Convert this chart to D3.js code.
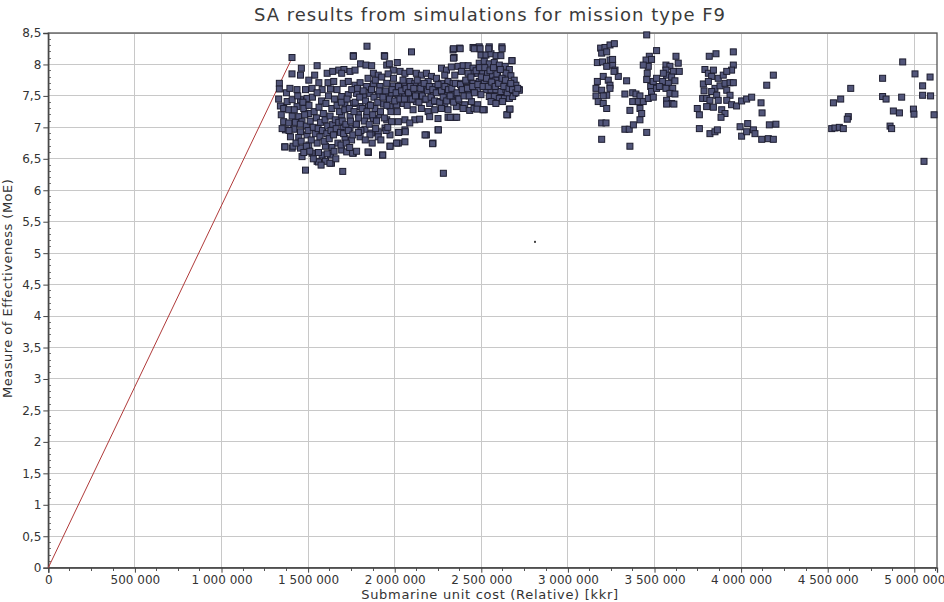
<!DOCTYPE html>
<html><head><meta charset="utf-8">
<script src="https://cdn.jsdelivr.net/npm/d3@7"></script>
<style>
html,body{margin:0;padding:0;background:#fff;}
svg text{font-family:"DejaVu Sans",Verdana,sans-serif;}
</style></head>
<body><svg id="c" width="944" height="602"></svg>
<script>
// Values: x = unit cost in thousands of kkr-units (x1000 for display), y = MoE
const title = "SA results from simulations for mission type F9";
const xLabel = "Submarine unit cost (Relative) [kkr]";
const yLabel = "Measure of Effectiveness (MoE)";
const xMax = 5131, yMax = 8.5;
const xTicks = [0,500,1000,1500,2000,2500,3000,3500,4000,4500,5000];
const yTicks = [0,0.5,1,1.5,2,2.5,3,3.5,4,4.5,5,5.5,6,6.5,7,7.5,8,8.5];

// reference line (origin to the highest-ratio design)
const refLine = [[0,0],[1398,8.05]];
// single tiny marker
const lonePoint = [[2810,5.18]];

// main cluster 1.3M - 2.7M
const clusterMain = [
[1407,8.11],[1461,7.94],[1552,7.98],[1407,7.85],[1334,7.70],[1334,7.61],[1456,7.83],[1538,7.83],[1610,7.86],[1642,7.89],
[1677,7.91],[1504,7.75],[1562,7.71],[1615,7.71],[1648,7.73],[1436,7.60],[1485,7.60],[1523,7.62],[1581,7.60],[1629,7.61],
[1667,7.60],[1379,7.41],[1408,7.44],[1456,7.44],[1494,7.46],[1340,7.34],[1359,7.30],[1388,7.28],[1436,7.33],[1475,7.30],
[1408,7.18],[1446,7.17],[1504,7.22],[1359,7.09],[1388,7.07],[1427,7.08],[1465,7.09],[1369,6.96],[1417,6.97],[1456,6.93],
[1398,6.85],[1446,6.84],[1494,6.88],[1365,6.69],[1408,6.67],[1456,6.67],[1504,6.72],[1552,6.75],[1600,6.70],[1638,6.68],
[1465,6.535],[1523,6.59],[1581,6.56],[1629,6.56],[1552,6.46],[1600,6.46],[1635,6.43],[1485,6.32],
[1840,8.29],[1761,8.14],[1940,8.14],[1803,8.01],[1834,7.99],[1867,7.98],[1954,7.99],[1969,8.01],[2015,8.03],[1707,7.92],
[1694,7.86],[1742,7.89],[1771,7.91],[1877,7.86],[1905,7.83],[1992,7.91],[2031,7.89],[2059,7.86],
[1703,7.70],[1732,7.73],[1771,7.67],[1800,7.71],[1838,7.65],[1877,7.69],[1915,7.65],[1954,7.70],[1992,7.66],[2031,7.67],[2059,7.70],
[1694,7.49],[1732,7.52],[1780,7.54],[1819,7.49],[1857,7.54],[1905,7.52],[1944,7.49],[1982,7.54],[2021,7.50],[2059,7.53],
[1713,7.36],[1761,7.38],[1800,7.33],[1848,7.36],[1886,7.30],[1934,7.37],[1973,7.33],[2011,7.36],[2050,7.38],
[1694,7.20],[1742,7.17],[1790,7.21],[1838,7.18],[1877,7.14],[1915,7.20],[1954,7.12],[1982,7.09],[2021,7.09],[2059,7.12],
[1703,7.01],[1742,6.99],[1780,7.04],[1828,6.97],[1867,6.91],[1905,6.93],[1944,6.99],[1973,6.88],[2021,6.92],[2059,6.96],
[1713,6.83],[1751,6.80],[1800,6.85],[1857,6.88],[1905,6.85],[1973,6.70],[2021,6.75],[2059,6.77],
[1694,6.64],[1723,6.61],[1761,6.59],[1848,6.60],[1930,6.56],[1700,6.30],
[2097,8.20],[2337,8.23],[2375,8.26],[2343,8.11],[2452,8.27],
[2270,7.94],[2299,7.91],[2327,7.96],[2366,7.97],[2395,7.98],[2424,7.98],[2452,7.94],[2452,7.86],
[2087,7.89],[2125,7.86],[2154,7.83],[2183,7.86],[2212,7.81],[2241,7.78],[2289,7.83],[2347,7.83],[2385,7.89],[2424,7.86],
[2087,7.73],[2116,7.70],[2154,7.70],[2193,7.73],[2231,7.65],[2270,7.70],[2308,7.73],[2337,7.70],[2375,7.70],[2414,7.73],[2452,7.70],
[2096,7.57],[2135,7.54],[2173,7.60],[2212,7.52],[2260,7.57],[2299,7.54],[2347,7.52],[2385,7.60],[2424,7.54],[2458,7.57],
[2087,7.44],[2125,7.41],[2164,7.44],[2202,7.38],[2241,7.41],[2289,7.38],[2327,7.44],[2366,7.41],[2404,7.36],[2443,7.41],
[2106,7.28],[2154,7.30],[2193,7.25],[2231,7.28],[2270,7.30],[2308,7.28],[2356,7.33],[2395,7.30],[2433,7.27],[2458,7.30],
[2116,7.12],[2144,7.13],[2202,7.17],[2250,7.14],[2308,7.16],[2347,7.16],
[2087,7.07],[2250,6.96],[2183,6.88],[2221,6.75],[2281,6.27],
[2488,8.28],[2546,8.28],[2619,8.28],[2677,8.06],[2498,8.15],[2527,8.15],[2556,8.17],[2585,8.14],[2613,8.14],
[2488,8.02],[2517,8.05],[2546,8.01],[2575,8.03],[2604,7.99],[2638,7.97],[2662,7.92],
[2479,7.86],[2508,7.89],[2536,7.86],[2565,7.83],[2594,7.81],[2642,7.86],[2671,7.82],[2690,7.75],
[2488,7.73],[2517,7.70],[2556,7.73],[2584,7.75],[2662,7.70],[2700,7.67],[2719,7.60],
[2479,7.60],[2527,7.60],[2556,7.60],[2584,7.60],[2613,7.57],[2642,7.60],[2671,7.57],[2690,7.54],
[2498,7.52],[2546,7.49],[2575,7.49],[2604,7.46],[2633,7.46],[2662,7.46],[2681,7.49],
[2479,7.36],[2517,7.28],[2556,7.41],[2584,7.38],[2623,7.41],[2662,7.29],[2652,7.20],
[1366,6.69],[1413,6.70],[1560,6.45],[1626,6.43],[1757,6.59],[1846,6.61],[1931,6.56],[1973,6.70],[2011,6.75],[2175,6.88],
[2219,6.74],[2252,6.96],[2061,6.93],[2023,6.92],[2647,7.20],[2666,7.29],[2719,7.59],[1942,8.13],[1761,8.13],
[2339,8.25],[2378,8.25],[2459,8.25],[2493,8.25],[2543,8.25],[2620,8.25],[2339,8.10],[2677,8.06],[2320,7.16],[2358,7.16],[2475,7.29],[2510,7.28],
[1470,7.40],[1480,7.20],[1490,7.02],[1500,6.95],[1505,7.35],[1512,7.10],[1518,6.80],[1525,7.48],[1530,7.00],[1535,7.25],
[1542,6.90],[1548,7.15],[1552,7.55],[1558,6.98],[1563,7.32],[1568,6.85],[1572,7.08],[1578,7.42],[1583,6.95],[1588,7.22],
[1593,6.78],[1598,7.12],[1603,7.38],[1608,6.90],[1613,7.02],[1618,7.50],[1622,6.82],[1627,7.18],[1632,6.95],[1637,7.30],
[1642,7.05],[1647,6.88],[1652,7.45],[1657,7.12],[1662,6.98],[1667,7.35],[1672,6.75],[1677,7.08],[1682,7.25],[1687,6.92],
[1692,7.40],[1697,7.10],[1705,6.90],[1712,7.28],[1718,7.05],[1725,7.45],[1732,6.95],[1738,7.30],[1745,7.10],[1752,7.60],
[1758,6.88],[1765,7.25],[1772,7.40],[1778,7.05],[1785,7.62],[1792,7.15],[1798,7.48],[1805,6.95],[1812,7.30],[1818,7.58],
[1825,7.10],[1832,7.42],[1840,7.25],[1846,7.78],[1853,7.05],[1860,7.35],[1866,7.60],[1873,7.20],[1880,7.48],[1888,7.75],
[1895,7.10],[1902,7.40],[1910,7.58],[1918,7.25],[1925,7.80],[1932,7.48],[1940,7.15],[1948,7.58],[1955,7.35],[1962,7.85],
[1970,7.45],[1978,7.25],[1985,7.60],[1993,7.78],[2000,7.42],[2008,7.55],[2015,7.25],[2022,7.65],[2030,7.45],[2040,7.58],
[2048,7.75],[2056,7.45],[2065,7.62],[2072,7.35],[2080,7.55],[2090,7.65],[2100,7.45],[2110,7.62],[2120,7.50],[2130,7.75],
[2140,7.40],[2150,7.62],[2160,7.50],[2170,7.70],[2180,7.45],[2190,7.58],[2200,7.65],[2210,7.48],[2220,7.60],[2230,7.42],
[2240,7.55],[2250,7.68],[2260,7.40],[2270,7.58],[2280,7.48],[2290,7.65],[2300,7.42],[2310,7.60],[2320,7.50],[2330,7.62],
[2340,7.40],[2350,7.70],[2360,7.55],[2370,7.45],[2380,7.68],[2390,7.60],[2400,7.50],[2410,7.75],[2420,7.62],[2430,7.50],
[2440,7.80],[2450,7.65],[2460,7.55],[2470,7.90],[2480,7.68],[2490,7.95],[2500,7.80],[2510,7.65],[2520,7.95],[2530,7.78],
[2540,7.65],[2550,7.90],[2560,7.72],[2570,7.95],[2580,7.65],[2590,7.85],[2600,7.70],[2610,7.92],[2620,7.78],[2630,7.65],
[2640,7.75],[2650,7.55],[2660,7.62],[2670,7.70],[2680,7.60],[2700,7.55],[2710,7.62],
[1330,7.45],[1345,7.20],[1350,6.98],[1375,7.55],[1390,6.95],[1395,7.62],[1420,7.28],[1430,6.75],[1440,7.50],[1455,7.05],
[1460,6.78],[1475,6.60],[1490,6.70],[1510,6.62],[1530,6.50],[1560,6.60],[1575,6.40],[1610,6.58],[1650,6.62],[1660,6.50],
[1690,6.72],[1720,6.75],[1740,6.68],[1780,6.62],[1790,6.92],[1830,6.80],[1870,6.75],[1890,6.98],[1920,6.80],[1950,6.95],[1960,7.00]
];

// right-hand groups 3.1M - 5.1M
const clusterRight = [
[3189,8.26],[3214,8.27],[3243,8.31],[3268,8.33],[3195,8.18],[3224,8.20],[3170,8.03],[3200,8.04],[3243,8.07],[3258,7.99],
[3224,7.97],[3272,7.91],[3291,7.81],[3204,7.81],[3233,7.75],[3170,7.73],[3243,7.67],[3162,7.62],[3195,7.59],[3243,7.62],
[3224,7.51],[3162,7.50],[3204,7.50],[3175,7.41],[3204,7.38],[3224,7.30],[3339,7.74],[3329,7.53],[3374,7.55],[3393,7.53],
[3416,7.50],[3374,7.41],[3406,7.41],[3435,7.41],[3416,7.30],[3358,7.27],[3426,7.22],[3416,7.12],[3329,6.97],[3354,6.97],
[3378,7.04],[3195,7.07],[3220,7.07],[3195,6.81],[3358,6.70],[3455,6.92],[3258,8.08],[3266,7.89],
[3455,8.47],[3512,8.22],[3624,8.13],[3470,8.13],[3451,8.07],[3483,8.08],[3464,7.97],[3435,7.99],[3458,7.86],[3455,7.76],
[3478,7.65],[3493,7.73],[3512,7.78],[3483,7.57],[3464,7.46],[3512,7.62],[3566,7.99],[3589,7.97],[3566,7.91],[3609,7.89],
[3570,7.83],[3599,7.80],[3547,7.73],[3580,7.70],[3618,7.74],[3605,7.62],[3566,7.62],[3589,7.54],[3618,7.53],[3570,7.43],
[3599,7.38],[3570,7.37],[3612,7.37],[3643,7.89],[3637,8.02],[3551,7.86],[3493,7.48],[3528,7.65],
[3816,8.13],[3855,8.17],[3955,8.20],[3955,7.99],[3945,7.91],[3791,7.92],[3811,7.86],[3840,7.91],[3868,7.78],[3897,7.83],
[3917,7.89],[3830,7.81],[3782,7.69],[3811,7.73],[3849,7.62],[3878,7.66],[3907,7.70],[3936,7.71],[3955,7.71],[3786,7.58],
[3830,7.57],[3917,7.59],[3936,7.51],[3778,7.46],[3801,7.46],[3820,7.43],[3859,7.51],[3840,7.32],[3868,7.43],[3917,7.43],
[3945,7.36],[3974,7.34],[4003,7.42],[4032,7.45],[4061,7.48],[3747,7.30],[3759,7.20],[3801,7.33],[3888,7.28],[3907,7.22],
[3884,7.16],[3759,6.98],[3820,6.90],[3849,6.93],[3863,6.96],
[4186,7.83],[4148,7.67],[4115,7.39],[4121,7.23],[3994,7.01],[4038,7.06],[4003,6.86],[4032,6.93],[4071,6.96],[4080,6.90],
[4119,6.81],[4157,6.82],[4186,6.81],[4163,7.04],[4201,7.05],
[4533,7.39],[4575,7.45],[4633,7.62],[4619,7.17],[4613,7.13],[4523,6.98],[4542,6.99],[4567,7.00],[4590,6.98],
[4933,8.04],[4817,7.78],[5004,7.85],[5091,7.80],[5048,7.66],[5048,7.51],[5094,7.50],[4817,7.49],[4837,7.45],[4927,7.48],
[4879,7.26],[4914,7.23],[4995,7.29],[4998,7.21],[5114,7.20],[4860,7.02],[4869,6.98],[5056,6.46]
];

const W = 944, H = 602;
const m = {left:48.3, right:944-937, top:33, bottom:602-567.7};
const svg = d3.select("#c");
const x = d3.scaleLinear().domain([0, xMax]).range([m.left, W - m.right]);
const y = d3.scaleLinear().domain([0, yMax]).range([H - m.bottom, m.top]);

const fmtX = v => v === 0 ? "0" : d3.format(",")(v * 1000).replace(/,/g, " ");
const fmtY = v => String(v).replace(".", ",");

// grid
const g = svg.append("g");
g.selectAll("line.gx").data(xTicks.filter(t => t > 0)).join("line")
  .attr("x1", d => x(d)).attr("x2", d => x(d)).attr("y1", y(0)).attr("y2", y(yMax))
  .attr("stroke", "#c8c8c8").attr("stroke-width", 1).attr("shape-rendering", "crispEdges");
g.selectAll("line.gy").data(yTicks.filter(t => t > 0)).join("line")
  .attr("x1", x(0)).attr("x2", x(xMax)).attr("y1", d => y(d)).attr("y2", d => y(d))
  .attr("stroke", "#c8c8c8").attr("stroke-width", 1).attr("shape-rendering", "crispEdges");

// plot frame
svg.append("rect").attr("x", x(0)).attr("y", y(yMax)).attr("width", x(xMax) - x(0)).attr("height", y(0) - y(yMax))
  .attr("fill", "none").attr("stroke", "#555").attr("stroke-width", 1.3);

// minor ticks
const xMinor = d3.range(0, xMax, 125).filter(v => v % 500 !== 0);
const yMinor = d3.range(0, 85).map(i => i / 10).filter((v, i) => i % 5 !== 0);
svg.append("g").selectAll("line").data(xMinor).join("line")
  .attr("x1", d => x(d)).attr("x2", d => x(d)).attr("y1", y(0)).attr("y2", y(0) + 3)
  .attr("stroke", "#555").attr("shape-rendering", "crispEdges");
svg.append("g").selectAll("line").data(yMinor).join("line")
  .attr("x1", x(0)).attr("x2", x(0) + 3).attr("y1", d => y(d)).attr("y2", d => y(d))
  .attr("stroke", "#777").attr("shape-rendering", "crispEdges");

// axes
const xAxis = svg.append("g").attr("transform", `translate(0,${y(0)})`)
  .call(d3.axisBottom(x).tickValues(xTicks).tickFormat(fmtX).tickSize(5).tickPadding(3));
const yAxis = svg.append("g").attr("transform", `translate(${x(0)},0)`)
  .call(d3.axisLeft(y).tickValues(yTicks).tickFormat(fmtY).tickSize(5).tickPadding(2));
[xAxis, yAxis].forEach(a => {
  a.select(".domain").attr("stroke", "#444").attr("stroke-width", 1.3);
  a.selectAll(".tick line").attr("stroke", "#444");
  a.selectAll("text").attr("fill", "#333").attr("font-size", "12px")
    .attr("font-family", "'DejaVu Sans',Verdana,sans-serif");
});

// reference line
svg.append("path").datum(refLine)
  .attr("d", d3.line().x(d => x(d[0])).y(d => y(d[1])))
  .attr("fill", "none").attr("stroke", "#b03a3a").attr("stroke-width", 1);

// scatter points
const s = 6;
svg.append("g").selectAll("rect").data(clusterMain.concat(clusterRight)).join("rect")
  .attr("x", d => x(d[0]) - s / 2).attr("y", d => y(d[1]) - s / 2)
  .attr("width", s).attr("height", s)
  .attr("fill", "#52567a").attr("stroke", "#1e1e30").attr("stroke-width", 1);

svg.append("g").selectAll("rect").data(lonePoint).join("rect")
  .attr("x", d => x(d[0]) - 1).attr("y", d => y(d[1]) - 1)
  .attr("width", 2).attr("height", 2).attr("fill", "#444");

// titles
svg.append("text").attr("x", 490).attr("y", 21).attr("text-anchor", "middle")
  .attr("font-size", "18px").attr("letter-spacing", "1px").attr("fill", "#3a3a3a").text(title);
svg.append("text").attr("x", 490).attr("y", 599).attr("text-anchor", "middle")
  .attr("font-size", "13px").attr("letter-spacing", "0.7px").attr("fill", "#333").text(xLabel);
svg.append("text").attr("transform", `translate(12,${(y(0) + y(yMax)) / 2 - 12}) rotate(-90)`)
  .attr("text-anchor", "middle").attr("font-size", "13px").attr("letter-spacing", "0.5px").attr("fill", "#333").text(yLabel);
</script></body></html>
